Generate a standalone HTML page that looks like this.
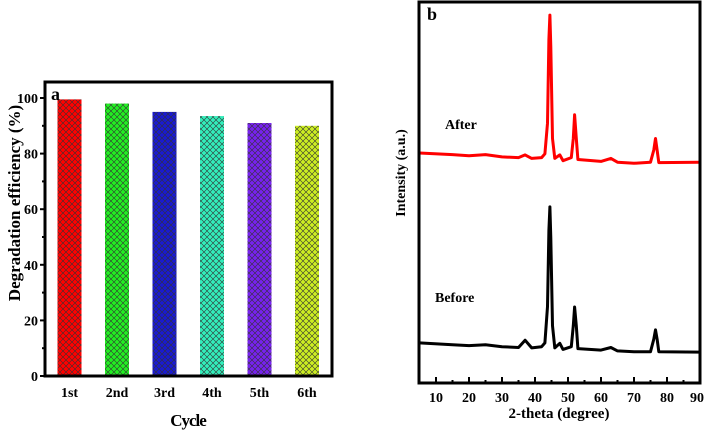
<!DOCTYPE html>
<html><head><meta charset="utf-8"><style>
html,body{margin:0;padding:0;background:#fff;}
svg{display:block;font-family:"Liberation Serif",serif;font-weight:bold;}
</style></head><body>
<svg id="c" width="708" height="431" viewBox="0 0 708 431">
<defs></defs>
</svg>
<script>
const cycles = ["1st","2nd","3rd","4th","5th","6th"];
const efficiency = [99.5, 98, 95, 93.5, 91, 90];
const barColors = ["#ff0000","#22ee22","#1a1ad0","#33eebb","#7722ee","#ccee22"];
const yTicksA = [0,20,40,60,80,100];
const xTicksB = [10,20,30,40,50,60,70,80,90];
const afterX = [5,15,20,25,30,35,37,39,42,43,43.8,44.2,44.5,44.8,45.3,46,47.5,48.5,51,51.6,52,52.5,53,60,63,65,70,75,76,76.5,77,77.5,90];
const afterY = [602,598,595,598,592,590,597,588,590,600,680,900,963,880,640,588,597,582,590,640,702,640,585,580,588,578,575,578,610,640,610,577,578];
const beforeX = [5,15,20,25,30,35,37,39,42,43,43.8,44.2,44.5,44.8,45.3,46,47.5,48.5,51,51.6,52,52.5,53,60,63,65,70,75,76,76.5,77,77.5,90];
const beforeY = [105,100,98,100,95,93,112,92,95,105,200,400,461,380,150,92,104,88,95,150,199,150,90,86,93,84,82,82,115,139,115,82,81];

const NS="http://www.w3.org/2000/svg";
const svg=document.getElementById('c');
const defs=svg.querySelector('defs');
function el(tag,attrs,parent){const e=document.createElementNS(NS,tag);for(const k in attrs)e.setAttribute(k,attrs[k]);(parent||svg).appendChild(e);return e;}

// ---- Chart a ----
const ax={l:45,r:332,t:82,b:376};
const ya=v=>376-v*2.78;
const xa=i=>69.5+i*47.5;
barColors.forEach((c,i)=>{
  const p=el('pattern',{id:'h'+i,width:6,height:6,patternUnits:'userSpaceOnUse'},defs);
  el('rect',{width:6,height:6,fill:c},p);
  el('path',{d:'M0,0L6,6M6,0L0,6',stroke:'#333',"stroke-width":0.6,fill:'none'},p);
});
cycles.forEach((c,i)=>{
  const r=el('rect',{x:xa(i)-12,y:ya(efficiency[i]),width:24,height:ya(0)-ya(efficiency[i]),fill:'url(#h'+i+')'});
  
  
  const t=el('text',{x:xa(i),y:397,"text-anchor":"middle","font-size":14});
  t.textContent=c;
  
  
});
yTicksA.forEach(v=>{
  el('line',{x1:40,x2:45,y1:ya(v),y2:ya(v),stroke:'#000',"stroke-width":2});
  const t=el('text',{x:38,y:ya(v)+5,"text-anchor":"end","font-size":14});
  t.textContent=v;
  
  
  if(v<100) el('line',{x1:42,x2:45,y1:ya(v+10),y2:ya(v+10),stroke:'#000',"stroke-width":2});
});
const fa=el('rect',{x:ax.l,y:ax.t,width:ax.r-ax.l,height:ax.b-ax.t,fill:'none',stroke:'#000',"stroke-width":3});

let t=el('text',{x:51,y:100,"font-size":18});t.textContent='a';

t=el('text',{x:188,y:426,"text-anchor":"middle","font-size":17,"letter-spacing":"-1"});t.textContent='Cycle';

t=el('text',{x:0,y:0,"text-anchor":"middle","font-size":17,transform:'translate(20,203) rotate(-90)'});t.textContent='Degradation efficiency (%)';


// ---- Chart b ----
const xb=v=>419.5+(v-5)*3.3;
const yb=v=>383-v*0.382;
function line(xs,ys,col,name){
  const d=xs.map((x,i)=>(i?'L':'M')+xb(x).toFixed(1)+','+yb(ys[i]).toFixed(1)).join('');
  const p=el('path',{d:d,fill:'none',stroke:col,"stroke-width":3,"stroke-linejoin":"round"});
  
}
line(afterX,afterY,'#ff0000','series-after');
line(beforeX,beforeY,'#000','series-before');
for(let v=5;v<=90;v+=5){
  const major=v%10===0;
  el('line',{x1:xb(v),x2:xb(v),y1:383,y2:major?377:380,stroke:'#000',"stroke-width":2});
}
xTicksB.forEach(v=>{
  const t=el('text',{x:xb(v)-(v===90?3:0),y:402,"text-anchor":"middle","font-size":14});
  t.textContent=v;
  
  
});
const fb=el('rect',{x:419,y:2,width:281,height:381,fill:'none',stroke:'#000',"stroke-width":3});

t=el('text',{x:427,y:20,"font-size":18});t.textContent='b';

t=el('text',{x:445,y:129,"font-size":14});t.textContent='After';

t=el('text',{x:435,y:302,"font-size":14});t.textContent='Before';

t=el('text',{x:559,y:418,"text-anchor":"middle","font-size":15});t.textContent='2-theta (degree)';

t=el('text',{x:0,y:0,"text-anchor":"middle","font-size":14,transform:'translate(405,173) rotate(-90)'});t.textContent='Intensity (a.u.)';

</script>
</body></html>
